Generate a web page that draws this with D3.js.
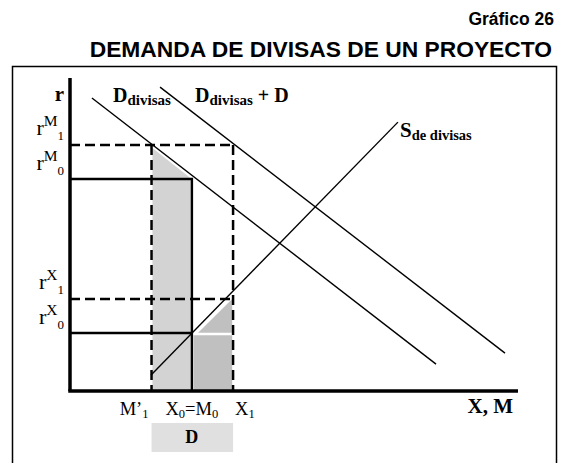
<!DOCTYPE html>
<html>
<head>
<meta charset="utf-8">
<script src="https://cdn.jsdelivr.net/npm/d3@7"></script>
<style>
  body { margin: 0; background: #fff; }
  svg { display: block; }
</style>
</head>
<body>
<div id="viz"></div>
<script>
const width = 566;
const height = 463;

// chart values, in abstract units of quantity (x) and exchange rate (y)
const xLevels = [18.2, 27.2, 36.4];        // M'1, X0=M0, X1
const xLabels = [
  [{t: "M’"}, {t: "1", sub: true}],
  [{t: "X"}, {t: "0", sub: true}, {t: "=M"}, {t: "0", sub: true}],
  [{t: "X"}, {t: "1", sub: true}]
];
const yLevels = [78.6, 67.7, 29.4, 18.5];   // rM1, rM0, rX1, rX0
const yLabels = [["M", "1"], ["M", "0"], ["X", "1"], ["X", "0"]];
const demand = [[4.9, 93.6], [81.7, 8.6]];
const demandPlus = [[20.1, 97.1], [97.1, 12.1]];
const supply = [[18.1, 5.1], [73.2, 85.9]];
const lossArea = [[18.4, 77.6], [26.8, 68.1], [26.8, 0], [18.4, 0]];
const gainRect = [[27.6, 0], [36.2, 0], [36.2, 17.8], [27.6, 17.8]];
const gainTri = [[28.6, 18.6], [36.2, 29.4], [36.2, 18.6]];

const svg = d3.select('#viz')
  .append('svg')
    .attr('width', width)
    .attr('height', height);

const serif = '"Liberation Serif", "Times New Roman", serif';
const sans = '"Liberation Sans", Arial, sans-serif';

// titles
svg.append('text')
  .attr('x', 554).attr('y', 25)
  .attr('text-anchor', 'end')
  .style('font', `bold 17.5px ${sans}`)
  .text('Gráfico 26');
svg.append('text')
  .attr('x', 552).attr('y', 56.5)
  .attr('text-anchor', 'end')
  .style('font', `bold 22.8px ${sans}`)
  .text('DEMANDA DE DIVISAS DE UN PROYECTO');

// frame
svg.append('rect')
  .attr('x', 12.5).attr('y', 66.5)
  .attr('width', 544).attr('height', 430)
  .attr('fill', 'none')
  .attr('stroke', '#000')
  .attr('stroke-width', 1.5);

const x = d3.scaleLinear().domain([0, 100]).range([70, 518]);
const y = d3.scaleLinear().domain([0, 100]).range([391, 78]);

const line = d3.line().x(d => x(d[0])).y(d => y(d[1]));

// shaded areas
svg.append('path')
  .attr('d', line(lossArea) + 'Z')
  .attr('fill', '#d3d3d3');
svg.append('path')
  .attr('d', line(gainRect) + 'Z')
  .attr('fill', '#c0c0c0');
svg.append('path')
  .attr('d', line(gainTri) + 'Z')
  .attr('fill', '#c0c0c0');

// dashed guides (rM1, rX1 and verticals at M'1, X1)
const dash = '10,5';
[yLevels[0], yLevels[2]].forEach(v => {
  svg.append('path')
    .attr('d', line([[0, v], [xLevels[2], v]]))
    .attr('stroke', '#000').attr('stroke-width', 2.5)
    .attr('stroke-dasharray', dash).attr('fill', 'none');
});
[xLevels[0], xLevels[2]].forEach(v => {
  svg.append('path')
    .attr('d', line([[v, yLevels[0]], [v, 0]]))
    .attr('stroke', '#000').attr('stroke-width', 2.5)
    .attr('stroke-dasharray', dash).attr('fill', 'none');
});

// solid guides (rM0 box and rX0)
svg.append('path')
  .attr('d', line([[0, yLevels[1]], [xLevels[1], yLevels[1]], [xLevels[1], 0]]))
  .attr('stroke', '#000').attr('stroke-width', 2.5).attr('fill', 'none');
svg.append('path')
  .attr('d', line([[0, yLevels[3]], [xLevels[1], yLevels[3]]]))
  .attr('stroke', '#000').attr('stroke-width', 2.5).attr('fill', 'none');

// curves
[demand, demandPlus, supply].forEach(c => {
  svg.append('path')
    .attr('d', line(c))
    .attr('stroke', '#000').attr('stroke-width', 1.4).attr('fill', 'none');
});

// axes
svg.append('line')
  .attr('x1', x(0)).attr('x2', x(0))
  .attr('y1', y(100)).attr('y2', y(0))
  .attr('stroke', '#000').attr('stroke-width', 3.5);
svg.append('line')
  .attr('x1', x(0) - 1.75).attr('x2', x(100))
  .attr('y1', y(0)).attr('y2', y(0))
  .attr('stroke', '#000').attr('stroke-width', 3.5);

// axis titles
svg.append('text')
  .attr('x', x(0) - 6).attr('y', 101)
  .attr('text-anchor', 'end')
  .style('font', `bold 21px ${serif}`)
  .text('r');
svg.append('text')
  .attr('x', 513).attr('y', 413)
  .attr('text-anchor', 'end')
  .style('font', `bold 21px ${serif}`)
  .text('X, M');

// y level labels
yLevels.forEach((v, i) => {
  const t = svg.append('text')
    .attr('x', x(0) - 6).attr('y', y(v) - 9.5)
    .attr('text-anchor', 'end')
    .style('font-family', serif);
  t.append('tspan').style('font-size', '22px').text('r');
  t.append('tspan').attr('dy', -9).style('font-size', '15.5px').text(yLabels[i][0]);
  t.append('tspan').attr('dy', 14).style('font-size', '13px').text(yLabels[i][1]);
});

// x level labels
const anchors = ['end', 'middle', 'start'];
const offs = [-3, 0, 2];
xLevels.forEach((v, i) => {
  const t = svg.append('text')
    .attr('x', x(v) + offs[i]).attr('y', 415)
    .attr('text-anchor', anchors[i])
    .style('font-family', serif)
    .style('font-size', '18.5px');
  let down = false;
  xLabels[i].forEach(p => {
    const s = t.append('tspan').text(p.t);
    if (p.sub) { s.attr('dy', 3).style('font-size', '12.5px'); down = true; }
    else if (down) { s.attr('dy', -3); down = false; }
  });
});

// curve labels
function curveLabel(px, py, main, sub, tail, size, subSize) {
  const t = svg.append('text')
    .attr('x', px).attr('y', py)
    .style('font-family', serif)
    .style('font-weight', 'bold');
  t.append('tspan').style('font-size', size + 'px').text(main);
  t.append('tspan').attr('dy', 3.5).style('font-size', subSize + 'px').text(sub);
  if (tail) t.append('tspan').attr('dy', -3.5).style('font-size', size + 'px').text(tail);
}
curveLabel(113, 101.5, 'D', 'divisas', null, 20, 15);
curveLabel(195, 101.5, 'D', 'divisas', ' + D', 20, 15);
curveLabel(400, 136.5, 'S', 'de divisas', null, 21, 14.5);

// project demand box
svg.append('rect')
  .attr('x', x(xLevels[0])).attr('y', 423)
  .attr('width', x(xLevels[2]) - x(xLevels[0])).attr('height', 29)
  .attr('fill', '#e0e0e0');
svg.append('text')
  .attr('x', x(xLevels[1])).attr('y', 443)
  .attr('text-anchor', 'middle')
  .style('font', `bold 18px ${serif}`)
  .text('D');
</script>
</body>
</html>
